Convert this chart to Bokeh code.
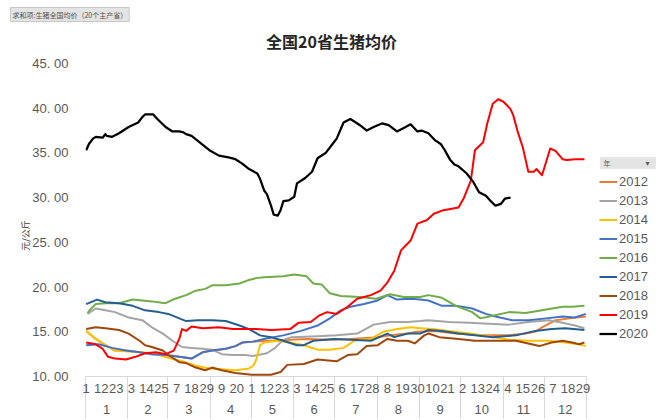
from bokeh.plotting import figure
from bokeh.models import FixedTicker, LinearAxis, Range1d, Legend, LegendItem, Label, BoxAnnotation, Title
from bokeh.embed import file_html
from bokeh.resources import INLINE

# ---------------- data ----------------
month_labels = ["1", "2", "3", "4", "5", "6", "7", "8", "9", "10", "11", "12"]
month_days = [31, 29, 31, 30, 31, 30, 31, 31, 30, 31, 30, 31]
day_labels = ["1", "12", "23", "3", "14", "25", "7", "18", "29", "9", "20",
              "1", "12", "23", "3", "14", "25", "6", "17", "28", "8", "19", "30",
              "10", "21", "2", "13", "24", "4", "15", "26", "7", "18", "29"]
y_ticks = [10, 15, 20, 25, 30, 35, 40, 45]
y_labels = ["10. 00", "15. 00", "20. 00", "25. 00", "30. 00", "35. 00", "40. 00", "45. 00"]

days_2012 = [0, 7, 14, 21, 29, 39, 48, 58, 68, 77, 85, 92, 102, 109, 114, 122, 135, 149, 161, 176,
             193, 213, 222, 235, 241, 255, 270, 289, 309, 321, 328, 333, 343, 353, 365]
vals_2012 = [15.1, 14.2, 13.5, 12.9, 12.9, 12.7, 12.5, 12.4, 12.2, 12.0, 12.7, 12.9, 13.1, 13.4, 13.8,
             13.9, 14.0, 14.1, 14.2, 14.1, 14.2, 14.4, 14.6, 14.8, 15.0, 15.1, 14.8, 14.6, 14.6, 14.8,
             15.0, 15.5, 16.3, 16.5, 16.7]

days_2013 = [1, 7, 14, 21, 31, 41, 48, 56, 63, 70, 77, 85, 92, 99, 107, 116, 122, 132, 138, 144, 150,
             169, 183, 198, 210, 222, 235, 244, 250, 265, 280, 294, 309, 323, 338, 348, 357, 364]
vals_2013 = [17.0, 17.6, 17.4, 17.2, 16.6, 16.3, 15.5, 14.8, 14.0, 13.3, 13.2, 13.1, 13.0, 12.5, 12.4,
             12.4, 12.3, 12.6, 13.2, 14.1, 14.4, 14.5, 14.6, 14.8, 15.8, 16.1, 16.1, 16.2, 16.3, 16.1,
             16.0, 15.9, 15.8, 16.1, 16.3, 16.0, 15.7, 15.4]

days_2014 = [0, 7, 14, 21, 31, 41, 51, 60, 70, 80, 90, 99, 109, 119, 122, 124, 127, 130, 140, 149,
             159, 169, 178, 188, 196, 200, 208, 217, 227, 237, 244, 253, 265, 280, 294, 309, 323,
             338, 350, 360, 365]
vals_2014 = [15.1, 14.2, 13.5, 12.9, 12.8, 12.7, 12.5, 12.1, 11.7, 11.2, 10.9, 10.8, 10.7, 10.9, 11.2,
             11.8, 13.5, 13.8, 14.0, 13.8, 13.5, 13.0, 13.0, 13.2, 14.0, 14.1, 14.2, 15.0, 15.3, 15.5,
             15.4, 15.3, 15.1, 14.8, 14.5, 14.1, 14.0, 14.0, 13.8, 13.6, 13.4]

days_2015 = [0, 9, 19, 29, 39, 48, 58, 68, 77, 85, 92, 102, 109, 114, 122, 130, 144, 157, 169, 178,
             186, 193, 203, 213, 220, 227, 237, 244, 250, 260, 270, 282, 292, 299, 311, 323, 336,
             348, 357, 365]
vals_2015 = [13.5, 13.6, 13.2, 12.9, 12.7, 12.5, 12.4, 12.2, 12.0, 12.7, 12.9, 13.1, 13.4, 13.8, 13.9,
             14.2, 14.6, 15.1, 15.7, 16.5, 17.4, 17.8, 18.1, 18.5, 19.1, 18.6, 18.7, 18.6, 18.5, 17.9,
             17.9, 17.6, 17.0, 16.7, 16.3, 16.3, 16.5, 16.7, 16.6, 17.0]

days_2016 = [1, 3, 7, 14, 24, 34, 48, 58, 65, 73, 80, 87, 92, 102, 112, 119, 124, 130, 144, 152, 161,
             166, 172, 178, 186, 200, 212, 222, 232, 244, 250, 260, 270, 282, 288, 297, 309, 321,
             333, 348, 355, 364]
vals_2016 = [17.1, 17.5, 18.1, 18.2, 18.2, 18.6, 18.4, 18.2, 18.7, 19.1, 19.6, 19.8, 20.2, 20.2, 20.4,
             20.8, 21.0, 21.1, 21.2, 21.4, 21.2, 20.4, 20.3, 19.3, 19.0, 18.9, 18.7, 19.2, 18.9, 18.9,
             19.1, 18.8, 17.9, 17.2, 16.5, 16.8, 17.2, 17.1, 17.4, 17.8, 17.8, 17.9]

days_2017 = [0, 8, 14, 24, 34, 43, 53, 60, 73, 82, 92, 102, 112, 119, 127, 135, 144, 154, 159, 166,
             181, 193, 208, 220, 225, 235, 244, 250, 260, 272, 284, 297, 314, 328, 340, 350, 364]
vals_2017 = [18.1, 18.6, 18.3, 18.2, 17.9, 17.4, 17.2, 17.0, 16.2, 16.3, 16.3, 16.2, 15.7, 15.3, 14.6,
             14.4, 14.0, 13.5, 13.5, 14.0, 14.2, 14.1, 14.0, 14.8, 14.4, 14.8, 14.8, 15.2, 15.1, 14.8,
             14.6, 14.4, 14.6, 15.1, 15.3, 15.4, 15.2]

days_2018 = [0, 7, 14, 24, 31, 39, 43, 48, 56, 60, 68, 73, 80, 87, 92, 99, 109, 121, 135, 142, 147,
             159, 169, 183, 191, 198, 205, 213, 220, 227, 235, 240, 247, 250, 258, 272, 284, 294,
             304, 314, 323, 331, 340, 348, 355, 360, 364]
vals_2018 = [15.3, 15.5, 15.4, 15.2, 14.8, 14.0, 13.5, 13.3, 12.9, 12.4, 11.6, 11.5, 11.0, 10.7, 11.0,
             10.7, 10.4, 10.2, 10.2, 10.5, 11.3, 11.4, 11.9, 11.7, 12.4, 12.5, 13.4, 13.5, 14.2, 14.0,
             14.0, 13.7, 14.6, 14.8, 14.4, 14.2, 14.0, 14.0, 14.0, 14.0, 13.7, 13.4, 13.8, 14.0, 13.8,
             13.6, 13.8]

days_2019 = [0, 7, 12, 16, 21, 29, 36, 43, 51, 58, 64, 68, 70, 73, 77, 85, 97, 107, 116, 124, 135,
             149, 155, 164, 170, 176, 183, 191, 198, 208, 215, 220, 225, 230, 237, 242, 249, 254,
             261, 272, 276, 281, 284, 290, 293, 297, 301, 305, 310, 312, 315, 319, 323, 327, 329,
             333, 339, 343, 348, 351, 357, 364]
vals_2019 = [13.8, 13.6, 13.1, 12.2, 12.0, 11.9, 12.2, 12.6, 12.7, 12.5, 12.9, 14.2, 15.3, 15.1, 15.6,
             15.4, 15.5, 15.3, 15.3, 15.3, 15.2, 15.3, 16.0, 16.1, 16.8, 17.2, 17.0, 17.8, 18.7, 19.1,
             19.6, 20.5, 21.8, 24.1, 25.2, 27.1, 27.5, 28.2, 28.6, 28.9, 30.0, 31.9, 35.3, 36.2, 38.3,
             40.5, 41.0, 40.7, 39.9, 39.2, 37.5, 35.6, 32.9, 32.9, 33.2, 32.5, 35.5, 35.2, 34.3, 34.2,
             34.3, 34.3]

days_2020 = [0, 2, 5, 7, 12, 14, 15, 19, 24, 31, 38, 41, 43, 49, 52, 58, 63, 68, 71, 73, 77, 82, 90,
             97, 104, 109, 114, 119, 125, 127, 130, 132, 135, 137, 140, 142, 144, 148, 152, 154, 160,
             165, 169, 175, 180, 183, 188, 193, 197, 200, 205, 210, 216, 221, 227, 232, 237, 242,
             245, 250, 255, 259, 262, 266, 269, 272, 278, 283, 287, 292, 295, 299, 303, 306, 310]
vals_2020 = [35.3, 36.0, 36.6, 36.8, 36.7, 37.1, 36.9, 36.8, 37.2, 37.9, 38.4, 39.0, 39.3, 39.3, 38.8,
             37.9, 37.4, 37.4, 37.3, 37.1, 36.9, 36.3, 35.3, 34.7, 34.5, 34.3, 33.8, 33.2, 32.7, 32.1,
             30.8, 30.4, 29.1, 28.1, 28.0, 28.6, 29.6, 29.7, 30.1, 31.6, 32.2, 32.9, 34.4, 35.0, 36.0,
             36.6, 38.4, 38.8, 38.4, 38.1, 37.5, 37.9, 38.3, 38.1, 37.4, 37.8, 38.2, 37.4, 37.5, 37.2,
             36.4, 36.0, 35.3, 34.2, 33.7, 33.5, 32.7, 31.7, 30.6, 30.2, 29.7, 29.1, 29.3, 29.9, 30.0]

series = [
    ("2012", days_2012, vals_2012, "#ED7D31", 2.0),
    ("2013", days_2013, vals_2013, "#A5A5A5", 2.0),
    ("2014", days_2014, vals_2014, "#FFC000", 2.0),
    ("2015", days_2015, vals_2015, "#4472C4", 2.0),
    ("2016", days_2016, vals_2016, "#70AD47", 2.0),
    ("2017", days_2017, vals_2017, "#255E91", 2.0),
    ("2018", days_2018, vals_2018, "#9E480E", 2.0),
    ("2019", days_2019, vals_2019, "#FF0000", 2.0),
    ("2020", days_2020, vals_2020, "#000000", 2.25),
]

title_text = "全国20省生猪均价"
field_text = "求和项:生猪全国均价（20个主产省）"
legend_title = "年"
y_axis_title = "元/公斤"

# ---------------- derived positions ----------------
bounds = [-0.5]
for d in month_days:
    bounds.append(bounds[-1] + d)
centers = [(bounds[i] + bounds[i + 1]) / 2 for i in range(len(month_days))]
day_ticks = [11 * k for k in range(len(day_labels))]

TXT = "#595959"
GRID = "#D9D9D9"

W, H = 658, 420
LEFT, TOP, BOTTOM = 85, 22, 44
PLOT_RIGHT = 586      # right end of the category axis
Y45_TOP = 63          # pixel row of the 45 tick
PX_PER_DAY = (PLOT_RIGHT - LEFT) / (bounds[-1] - bounds[0])
PX_PER_UNIT = (H - BOTTOM - Y45_TOP) / 35.0
x_end = bounds[-1] + (W - PLOT_RIGHT) / PX_PER_DAY
y_end = 45 + (Y45_TOP - TOP) / PX_PER_UNIT

p = figure(width=W, height=H, x_range=Range1d(bounds[0], x_end), y_range=Range1d(10, y_end),
           output_backend="svg", toolbar_location=None,
           min_border_left=LEFT, min_border_right=0, min_border_top=TOP, min_border_bottom=BOTTOM)
p.outline_line_color = None
p.xgrid.visible = False
p.ygrid.visible = False

# pivot data-field button (top-left) as the plot title
p.title = Title(text=field_text, align="left", offset=-75, text_font="Noto Sans CJK SC",
                text_font_size="7px", text_font_style="normal", text_color="#505050",
                background_fill_color="#E4E4E4", border_line_color="#C8C8C8", padding=2, standoff=2)

# main title
p.add_layout(Label(x=246, y=336, x_units="screen", y_units="screen", text=title_text,
                   text_font="Noto Sans CJK SC", text_font_size="16px", text_font_style="bold",
                   text_color="#262626", text_align="center", text_baseline="middle"))

# y axis
p.yaxis.ticker = FixedTicker(ticks=y_ticks)
p.yaxis.major_label_overrides = {t: l for t, l in zip(y_ticks, y_labels)}
p.yaxis.axis_line_color = None
p.yaxis.major_tick_line_color = None
p.yaxis.minor_tick_line_color = None
p.yaxis.major_tick_out = 0
p.yaxis.major_tick_in = 0
p.yaxis.minor_tick_out = 0
p.yaxis.minor_tick_in = 0
p.yaxis.major_label_standoff = 17
p.yaxis.major_label_text_font = "Liberation Sans"
p.yaxis.major_label_text_font_size = "13px"
p.yaxis.major_label_text_color = TXT
# trailing ideographic spaces shift the rotated title down to where it sits in the reference
p.yaxis.axis_label = y_axis_title + "\u3000" * 8
p.yaxis.axis_label_text_font = "Noto Sans CJK SC"
p.yaxis.axis_label_text_font_size = "9px"
p.yaxis.axis_label_text_font_style = "normal"
p.yaxis.axis_label_text_color = "#404040"
p.yaxis.axis_label_standoff = -3

# x axis level 1 (days)
xa = p.xaxis[0]
xa.bounds = (bounds[0], bounds[-1])
xa.ticker = FixedTicker(ticks=day_ticks, minor_ticks=bounds)
xa.major_label_overrides = {t: l for t, l in zip(day_ticks, day_labels)}
xa.major_tick_in = 0
xa.major_tick_out = 0
xa.minor_tick_in = 0
xa.minor_tick_out = 21
xa.minor_tick_line_color = GRID
xa.axis_line_color = GRID
xa.major_label_standoff = -14
xa.major_label_text_font = "Liberation Sans"
xa.major_label_text_font_size = "13px"
xa.major_label_text_color = TXT

# x axis level 2 (months)
xm = LinearAxis(ticker=FixedTicker(ticks=centers, minor_ticks=bounds), bounds=(bounds[0], bounds[-1]))
xm.major_label_overrides = {t: l for t, l in zip(centers, month_labels)}
xm.axis_line_color = None
xm.major_tick_line_color = None
xm.major_tick_in = 0
xm.major_tick_out = 0
xm.minor_tick_in = 0
xm.minor_tick_out = 23
xm.minor_tick_line_color = GRID
xm.major_label_standoff = -14
xm.major_label_text_font = "Liberation Sans"
xm.major_label_text_font_size = "13px"
xm.major_label_text_color = TXT
p.add_layout(xm, "below")

# lines
items = []
for name, xs, ys, color, lw in series:
    r = p.line(xs, ys, line_color=color, line_width=lw, line_join="round")
    items.append(LegendItem(label=name, renderers=[r]))

legend = Legend(items=items, location=(514, 35))
legend.label_text_font = "Liberation Sans"
legend.label_text_font_size = "13px"
legend.label_text_color = TXT
legend.glyph_width = 18
legend.glyph_height = 15
legend.label_height = 15
legend.spacing = 4
legend.padding = 0
legend.margin = 0
legend.label_standoff = 2
legend.border_line_color = None
legend.background_fill_alpha = 0
p.add_layout(legend)

# legend header bar (pivot field button)
hdr = BoxAnnotation(left=515, right=570, bottom=208, top=219,
                    left_units="screen", right_units="screen", bottom_units="screen", top_units="screen",
                    fill_color="#E4E4E4", fill_alpha=1, line_color="#D0D0D0", line_width=1)
p.add_layout(hdr)
p.add_layout(Label(x=518, y=213.5, x_units="screen", y_units="screen", text=legend_title,
                   text_font="Noto Sans CJK SC", text_font_size="7px", text_color="#606060",
                   text_baseline="middle"))
p.add_layout(Label(x=560, y=213.5, x_units="screen", y_units="screen", text="▾",
                   text_font="DejaVu Sans", text_font_size="8px", text_color="#606060",
                   text_baseline="middle"))

open("out.html", "w").write(file_html(p, INLINE))
